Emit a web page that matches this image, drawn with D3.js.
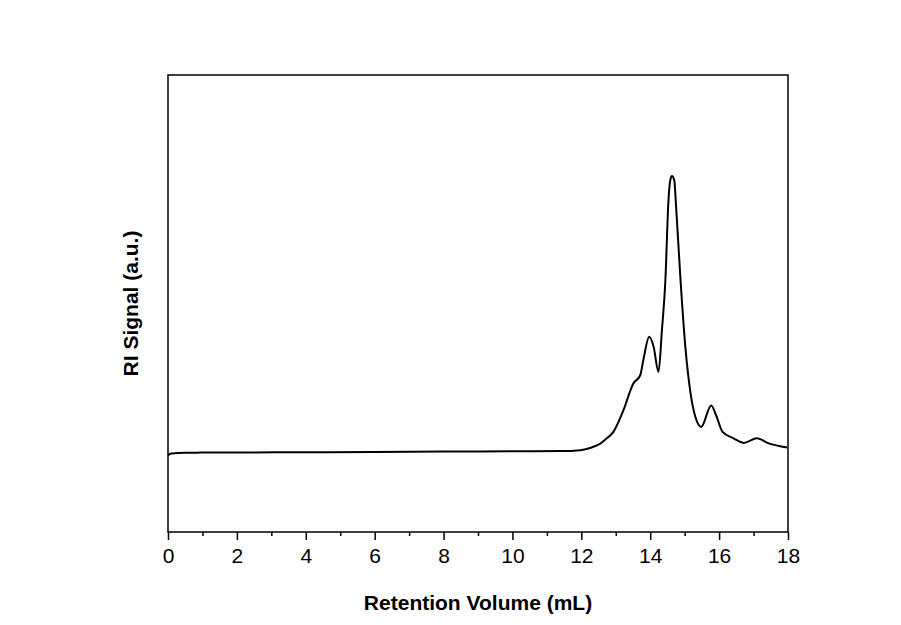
<!DOCTYPE html>
<html>
<head>
<meta charset="utf-8">
<script src="https://cdn.jsdelivr.net/npm/d3@7"></script>
<style>
  body { margin: 0; background: #fff; }
  svg text { font-family: Arial, "Liberation Sans", sans-serif; fill: #000; }
</style>
</head>
<body>
<div id="chart"></div>
<script>
// Retention volume (mL)
const volume = [0, 0.1, 0.5, 2, 4, 6, 8, 10, 11.38, 11.97, 12.3, 12.55, 12.74, 12.93, 13.08, 13.22, 13.51, 13.71, 13.8, 13.97,
    14.1, 14.24, 14.34, 14.44, 14.53, 14.58, 14.63, 14.7, 14.74, 14.88, 15.02, 15.17, 15.31, 15.48, 15.77, 15.91,
    16.1, 16.42, 16.71, 17.1, 17.44, 17.97];

// RI signal (arbitrary units)
const signal = [16.8, 17.2, 17.35, 17.4, 17.45, 17.5, 17.6, 17.65, 17.7, 17.9, 18.5, 19.35, 20.5, 21.9, 24.1, 26.6, 32.5, 34.3, 37.6, 42.7,
    40.5, 35.0, 44.2, 55.1, 72.6, 76.9, 77.9, 76.9, 72.6, 55.1, 40.5, 30.4, 25.2, 23.0, 27.7, 25.6,
    21.9, 20.5, 19.5, 20.5, 19.4, 18.5];

const majorTicks = [0, 2, 4, 6, 8, 10, 12, 14, 16, 18];
const minorTicks = [1, 3, 5, 7, 9, 11, 13, 15, 17];

const width = 901;
const height = 625;
const margin = { top: 75, right: 113, bottom: 93, left: 168 };

const svg = d3.select('#chart').append('svg').attr('width', width).attr('height', height);

const x = d3.scaleLinear().domain([0, 18]).range([margin.left, width - margin.right]);
const y = d3.scaleLinear().domain([0, 100]).range([height - margin.bottom, margin.top]);

// Frame around the plot area.
svg.append('rect')
    .attr('x', x(0)).attr('y', y(100))
    .attr('width', x(18) - x(0)).attr('height', y(0) - y(100))
    .attr('fill', 'none').attr('stroke', '#000').attr('stroke-width', 1.5);

// Bottom axis: labelled majors, short minors.
const xAxis = svg.append('g').attr('transform', `translate(0,${y(0)})`)
    .call(d3.axisBottom(x).tickValues(majorTicks).tickSize(8).tickPadding(8).tickFormat(d3.format('d')));

xAxis.select('.domain').remove();
xAxis.selectAll('line').attr('stroke-width', 1.5);
xAxis.selectAll('text').attr('font-size', 21).style('font-family', 'Arial, "Liberation Sans", sans-serif');

svg.append('g').attr('transform', `translate(0,${y(0)})`)
    .call(d3.axisBottom(x).tickValues(minorTicks).tickSize(4).tickFormat(''))
    .call(g => g.select('.domain').remove())
    .selectAll('line').attr('stroke-width', 1.5);

// The chromatogram trace.
const line = d3.line()
    .curve(d3.curveMonotoneX)
    .x((d, i) => x(volume[i]))
    .y(d => y(d));

svg.append('path')
    .attr('d', line(signal))
    .attr('fill', 'none')
    .attr('stroke', '#000')
    .attr('stroke-width', 2)
    .attr('stroke-linejoin', 'round');

// Axis titles.
svg.append('text')
    .attr('x', (x(0) + x(18)) / 2).attr('y', 610)
    .attr('text-anchor', 'middle')
    .attr('font-size', 21).attr('font-weight', 'bold')
    .text('Retention Volume (mL)');

svg.append('text')
    .attr('transform', `translate(138,${(y(0) + y(100)) / 2}) rotate(-90)`)
    .attr('text-anchor', 'middle')
    .attr('font-size', 21).attr('font-weight', 'bold')
    .text('RI Signal (a.u.)');
</script>
</body>
</html>
